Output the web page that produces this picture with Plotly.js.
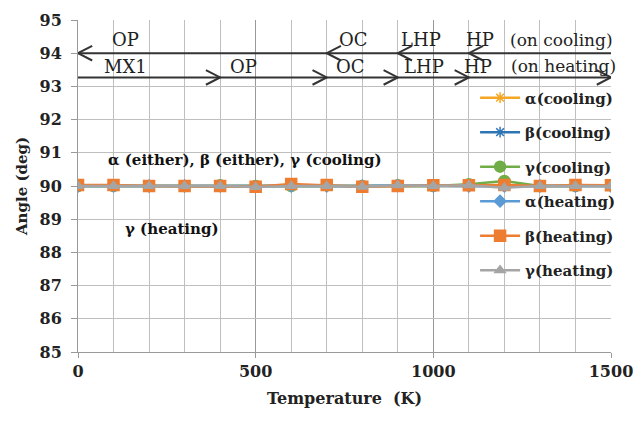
<!DOCTYPE html>
<html><head><meta charset="utf-8">
<script src="https://cdn.plot.ly/plotly-3.0.1.min.js"></script>
<style>html,body{margin:0;padding:0;background:#fff}#c{width:633px;height:421px}</style>
</head><body><div id="c"></div>
<script>
// Data
const temperature = [0,100,200,300,400,500,600,700,800,900,1000,1100,1200,1300,1400,1500];
const alphaCooling = [90,90,90,90,90,90,90,90,90,90,90,90,90,90,90,90];
const betaCooling  = [90,90,90,90,89.98,90,90,90,90,90,90,90,90,90,90,90];
const gammaCooling = [90,90,90,90,90.02,90,90,90.02,90,90.02,90,90.05,90.15,90,90];
const alphaHeating = [90,90,90,90,90,89.98,90,90,90,90.02,90,90,90,90,90,90];
const betaHeating  = [90.03,90.03,90,90,90,89.98,90.06,90.03,89.98,90,90.02,90.02,90.03,90,90.03,90.02];
const gammaHeating = [90,90,90,90,90,89.97,90,90,89.98,90.02,90,90.02,89.95,90,90,90];
const seriesNames = ['α(cooling)','β(cooling)','γ(cooling)','α(heating)','β(heating)','γ(heating)'];

// Phase-boundary arrows
const coolingY = 94, heatingY = 93.27;
const coolingSegs = [[1500,1100],[1100,900],[900,700],[700,0]];
const heatingSegs = [[0,400],[400,700],[700,900],[900,1100],[1100,1500]];
const coolingLabels = [['OP',135],['OC',774],['LHP',965],['HP',1132],['(on cooling)',1362]];
const heatingLabels = [['MX1',135],['OP',465],['OC',768],['LHP',974],['HP',1126],['(on heating)',1365]];

const colors = ['#F5A623','#2E75B6','#70AD47','#5B9BD5','#ED7D31','#A5A5A5'];
const symbols = ['asterisk-open','asterisk-open','circle','diamond','square','triangle-up'];
const ys = [alphaCooling,betaCooling,gammaCooling,alphaHeating,betaHeating,gammaHeating];

const traces = ys.map((y,i)=>({
  x: temperature, y: y, name: seriesNames[i], type:'scatter', mode:'lines+markers',
  legendgroup:'g'+i,
  line:{color:colors[i], width:2.5},
  marker:{symbol:symbols[i], color:colors[i], size:(i===4||i===2)?11:9, line:{color:colors[i], width:1.5}}
}));

const shapes = [];
const dx = 40, dy = 0.22;
function addArrow(x0,x1,y){
  shapes.push({type:'line', xref:'x', yref:'y', x0:x0, x1:x1, y0:y, y1:y, line:{color:'#333', width:2}});
  const s = x1 > x0 ? -1 : 1;
  shapes.push({type:'path', xref:'x', yref:'y',
    path:`M ${x1+s*dx} ${y+dy} L ${x1} ${y} L ${x1+s*dx} ${y-dy}`, line:{color:'#333', width:2}});
}
coolingSegs.forEach(s=>addArrow(s[0],s[1],coolingY));
heatingSegs.forEach(s=>addArrow(s[0],s[1],heatingY));

const serif = 'DejaVu Serif, serif';
const annotations = [];
coolingLabels.forEach(l=>annotations.push({x:l[1], y:coolingY+0.4, xref:'x', yref:'y', text:l[0], showarrow:false, font:{family:serif, size:l[0].length>5?17:18, color:'#222'}}));
heatingLabels.forEach(l=>annotations.push({x:l[1], y:heatingY+0.33, xref:'x', yref:'y', text:l[0], showarrow:false, font:{family:serif, size:l[0].length>5?17:18, color:'#222'}}));
annotations.push({x:470, y:90.78, xref:'x', yref:'y', text:'<b>α (either), β (either), γ (cooling)</b>', showarrow:false, font:{family:serif, size:15, color:'#111'}});
annotations.push({x:265, y:88.7, xref:'x', yref:'y', text:'<b>γ (heating)</b>', showarrow:false, font:{family:serif, size:15, color:'#111'}});

const layout = {
  width:633, height:421,
  margin:{l:78, r:22, t:20, b:69},
  paper_bgcolor:'#fff', plot_bgcolor:'#fff',
  showlegend:true,
  legend:{x:0.745, y:0.815, xanchor:'left', yanchor:'top', bgcolor:'rgba(0,0,0,0)',
    font:{family:serif, size:15, color:'#222', weight:'bold'}, tracegroupgap:12, itemwidth:40},
  xaxis:{range:[0,1500], dtick:500, tick0:0, showgrid:true, gridcolor:'#999', gridwidth:1,
    minor:{dtick:100, showgrid:true, gridcolor:'#BFBFBF', gridwidth:1},
    zeroline:false, showline:true, linecolor:'#999', ticks:'outside', ticklen:5, tickcolor:'#999',
    ticklabeloverflow:'allow',
    tickfont:{family:serif, size:16, color:'#222', weight:'bold'},
    title:{text:'Temperature  (K)', font:{family:serif, size:16, color:'#222', weight:'bold'}, standoff:12}},
  yaxis:{range:[85,95], dtick:1, showgrid:true, gridcolor:'#BFBFBF', gridwidth:1,
    zeroline:false, showline:true, linecolor:'#999', ticks:'outside', ticklen:6, tickcolor:'#999',
    ticklabelstandoff:6,
    tickfont:{family:serif, size:16, color:'#222', weight:'bold'},
    title:{text:'Angle (deg)', font:{family:serif, size:15, color:'#222', weight:'bold'}, standoff:8}},
  shapes: shapes,
  annotations: annotations
};
Plotly.newPlot('c', traces, layout, {displayModeBar:false, staticPlot:true});
</script>
</body></html>
